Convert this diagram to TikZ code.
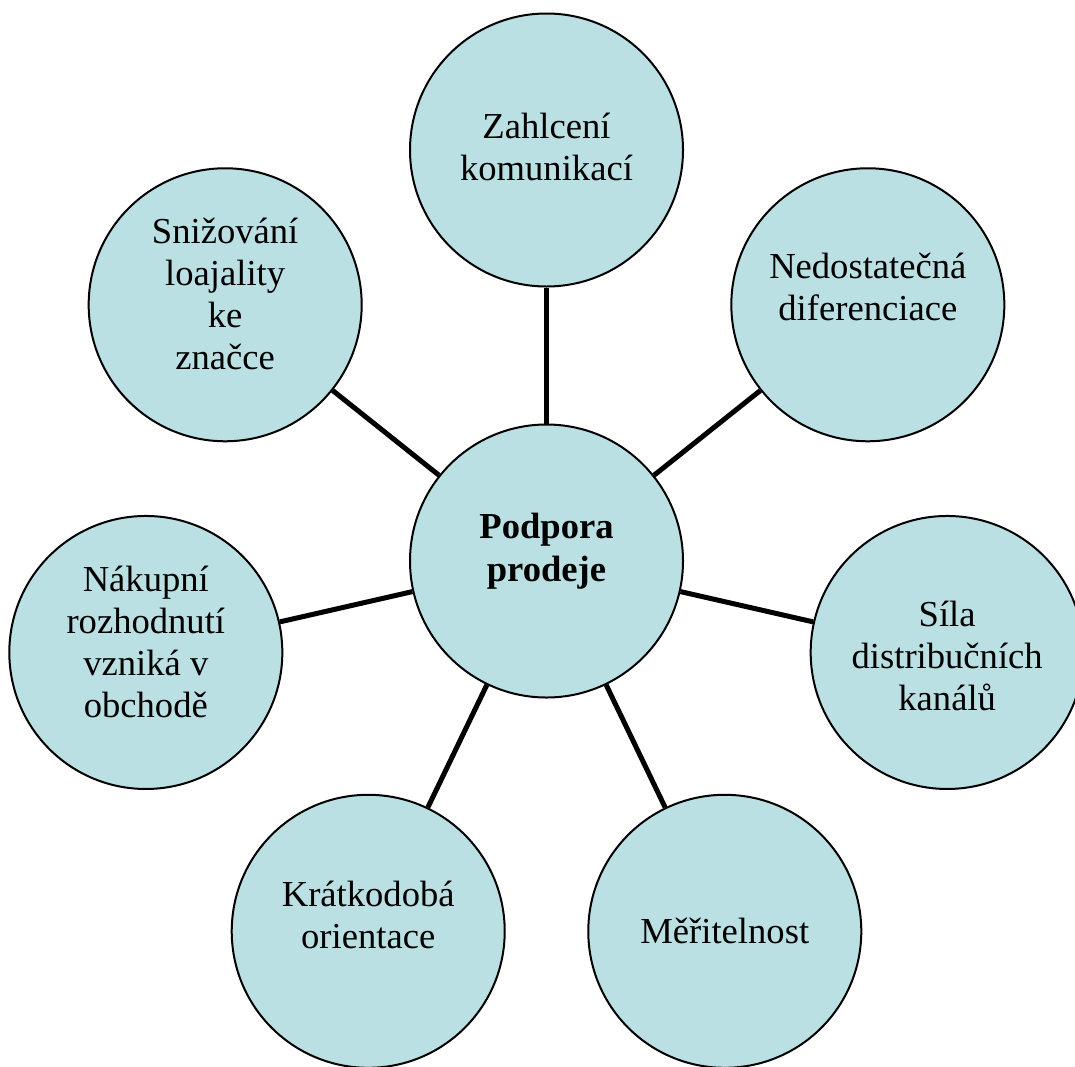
\documentclass[tikz,border=0pt]{standalone}
\usepackage{fontspec}
\setmainfont{Liberation Serif}
\usepackage{tikz}
\definecolor{bubble}{RGB}{187,224,227}
% text block whose first baseline sits #1 above the circle centre
\newcommand{\lift}[2]{\raisebox{#1}[0pt][0pt]{\begin{tabular}[t]{@{}c@{}}#2\end{tabular}}}

\begin{document}
\begin{tikzpicture}[x=.5pt,y=.5pt,
  bub/.style={circle,draw,line width=1pt,fill=bubble,minimum size=136.5pt,inner sep=0pt,
    font=\fontsize{18.3}{21}\selectfont},
  link/.style={line width=2.5pt}]
\useasboundingbox (0,0) rectangle (1075,-1066);
\clip (0,0) rectangle (1075,-1066);
\node[bub,font=\fontsize{18.3}{21.5}\selectfont\bfseries] (c) at (546.5,-561) {\lift{11.5pt}{Podpora\\prodeje}};
\foreach \ang/\dy/\txt [count=\i] in {90/6pt/{Zahlcení\\komunikací},
  38.57/13.3pt/{Nedostatečná\\diferenciace},
  -12.86/12.75pt/{Síla\\distribučních\\kanálů},
  -64.29/-6.3pt/{Měřitelnost},
  -115.71/12.2pt/{Krátkodobá\\orientace},
  -167.14/30.7pt/{Nákupní\\rozhodnutí\\vzniká v\\obchodě},
  141.43/30.8pt/{Snižování\\loajality\\ke\\značce}}{
  \node[bub] (n\i) at ([shift={(\ang:411)}]c) {\lift{\dy}{\txt}};
  \draw[link] (c) -- (n\i);
}
\end{tikzpicture}
\end{document}
